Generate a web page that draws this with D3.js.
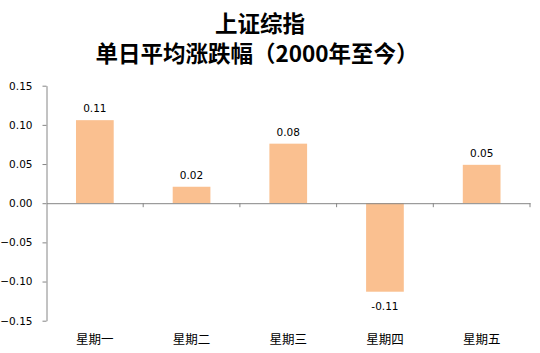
<!DOCTYPE html>
<html>
<head>
<meta charset="utf-8">
<script src="https://cdn.jsdelivr.net/npm/d3@7"></script>
<style>
  body { margin: 0; background: #fff; }
  svg { display: block; }
</style>
</head>
<body>
<svg width="540" height="353"></svg>
<script>
// data
var days = ["星期一", "星期二", "星期三", "星期四", "星期五"];
var values = [0.106, 0.021, 0.076, -0.113, 0.049];
var labels = ["0.11", "0.02", "0.08", "-0.11", "0.05"];
var yTicks = [0.15, 0.10, 0.05, 0.00, -0.05, -0.10, -0.15];

var svg = d3.select("svg");
var plotLeft = 46.5, plotRight = 530, plotTop = 85.7, plotBottom = 320.7;

var x = d3.scaleBand().domain(days).range([plotLeft, plotRight]).paddingInner(0.61).paddingOuter(0.305);
var xo = d3.scaleBand().domain(days).range([plotLeft, plotRight]);
var y = d3.scaleLinear().domain([-0.15, 0.15]).range([plotBottom, plotTop]);

// title
var title = svg.append("text")
    .attr("text-anchor", "middle")
    .style("font-family", "'Noto Sans CJK SC', sans-serif")
    .style("font-weight", "bold")
    .style("font-size", "22.5px")
    .attr("fill", "#000");
title.append("tspan").attr("x", 260).attr("y", 32).text("上证综指");
title.append("tspan").attr("x", 257).attr("y", 62).text("单日平均涨跌幅（2000年至今）");

// y axis
var yAxis = d3.axisLeft(y).tickValues(yTicks).tickFormat(d3.format(".2f")).tickSize(4).tickSizeOuter(0);
var gy = svg.append("g").attr("transform", "translate(" + plotLeft + ",0)").call(yAxis);
gy.select(".domain").attr("stroke", "#868686");
gy.selectAll(".tick line").attr("stroke", "#868686");
gy.selectAll(".tick text")
    .attr("x", -14)
    .style("font-family", "'DejaVu Sans', Verdana, sans-serif")
    .style("font-size", "10.5px")
    .attr("fill", "#000");

// bars
svg.selectAll(".bar").data(values).enter().append("rect")
    .attr("class", "bar")
    .attr("x", function(d, i) { return x(days[i]); })
    .attr("width", x.bandwidth())
    .attr("y", function(d) { return y(Math.max(0, d)); })
    .attr("height", function(d) { return Math.abs(y(d) - y(0)); })
    .attr("fill", "#FAC090");

// zero axis with category ticks
var xAxis = d3.axisBottom(xo).tickSize(0).tickFormat("");
var gx = svg.append("g").attr("transform", "translate(0," + y(0) + ")").call(xAxis);
gx.select(".domain").attr("stroke", "#868686");
gx.selectAll(".sep").data(days).enter().append("line")
    .attr("class", "sep")
    .attr("x1", function(d) { return xo(d) + xo.bandwidth(); })
    .attr("x2", function(d) { return xo(d) + xo.bandwidth(); })
    .attr("y1", 0).attr("y2", 4)
    .attr("stroke", "#868686");

// data labels
svg.selectAll(".lbl").data(values).enter().append("text")
    .attr("class", "lbl")
    .attr("text-anchor", "middle")
    .attr("x", function(d, i) { return x(days[i]) + x.bandwidth() / 2; })
    .attr("y", function(d) { return d >= 0 ? y(d) - 8 : y(d) + 18; })
    .style("font-family", "'DejaVu Sans', Verdana, sans-serif")
    .style("font-size", "10.5px")
    .attr("fill", "#000")
    .text(function(d, i) { return labels[i]; });

// category labels
svg.selectAll(".cat").data(days).enter().append("text")
    .attr("class", "cat")
    .attr("text-anchor", "middle")
    .attr("x", function(d) { return xo(d) + xo.bandwidth() / 2; })
    .attr("y", 344)
    .style("font-family", "'Noto Sans CJK SC', sans-serif")
    .style("font-size", "12.5px")
    .attr("fill", "#000")
    .text(function(d) { return d; });
</script>
</body>
</html>
